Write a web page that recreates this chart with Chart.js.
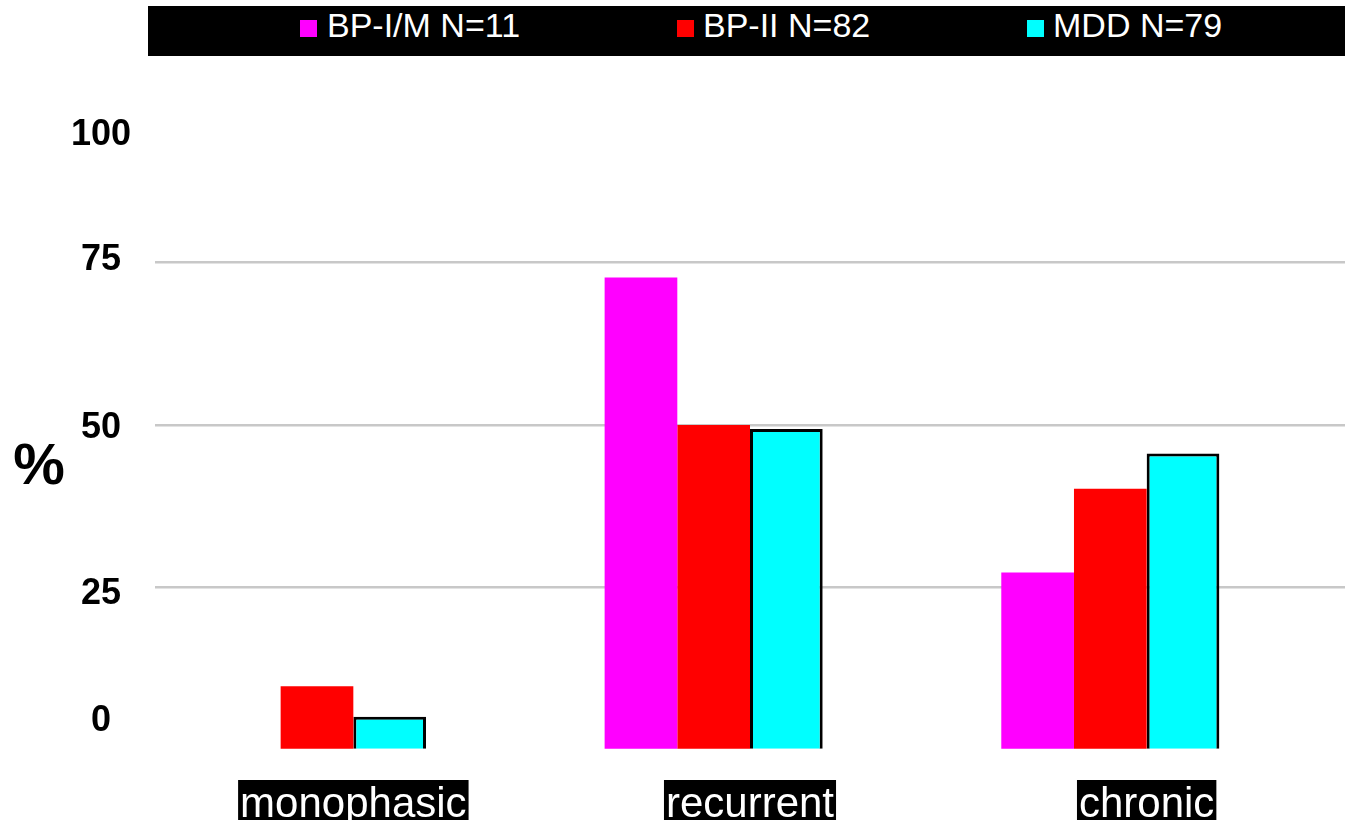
<!DOCTYPE html>
<html>
<head>
<meta charset="utf-8">
<script src="https://cdn.jsdelivr.net/npm/chart.js@4"></script>
<style>
  body { margin: 0; background: #fff; }
  #wrap { position: relative; width: 1345px; height: 820px; overflow: hidden; }
  #legend { position: absolute; left: 148px; top: 6px; width: 1197px; height: 50px; background: #000; }
  #legend .sq { position: absolute; top: 14px; width: 17px; height: 17px; }
  #legend .tx { position: absolute; top: 2px; color: #fff; font: 34px Arial, "Liberation Sans", sans-serif; line-height: 34px; white-space: nowrap; }
</style>
</head>
<body>
<div id="wrap">
  <canvas id="grafico" width="1345" height="820"></canvas>
  <div id="legend"></div>
</div>
<script>
// categorias y series (%)
const categorias = ["monophasic", "recurrent", "chronic"];
const series = ["BP-I/M N=11", "BP-II N=82", "MDD N=79"];
const bp1 = [0, 72.7, 27.3];
const bp2 = [9.8, 50, 40.2];
const mdd = [5.1, 49.4, 45.6];
const hueco = [0, 0, 0]; // serie vacia que ocupa el 4o lugar del grupo
const yTicks = [0, 25, 50, 75, 100];

const colores = ["#ff00ff", "#ff0000", "#00ffff"];

// leyenda en html sobre la franja negra
const leg = document.getElementById("legend");
const sqLeft = [152, 529, 879];
const txLeft = [179, 555, 905];
series.forEach((s, i) => {
  const sq = document.createElement("div");
  sq.className = "sq";
  sq.style.left = sqLeft[i] + "px";
  sq.style.background = colores[i];
  leg.appendChild(sq);
  const tx = document.createElement("div");
  tx.className = "tx";
  tx.style.left = txLeft[i] + "px";
  tx.textContent = s;
  leg.appendChild(tx);
});

// etiquetas del eje y y el simbolo %
const ejeY = {
  id: "ejeY",
  afterDraw(chart) {
    const ctx = chart.ctx;
    const y = chart.scales.y;
    const ajuste = { 0: -29, 25: 7, 50: 3, 75: -2, 100: 35 };
    ctx.save();
    ctx.fillStyle = "#000";
    ctx.font = "bold 36px Arial, 'Liberation Sans', sans-serif";
    ctx.textAlign = "center";
    ctx.textBaseline = "middle";
    yTicks.forEach(v => {
      ctx.fillText(String(v), 101, y.getPixelForValue(v) + ajuste[v]);
    });
    ctx.font = "bold 58px Arial, 'Liberation Sans', sans-serif";
    ctx.fillText("%", 39, 468);
    ctx.restore();
  }
};

new Chart(document.getElementById("grafico"), {
  type: "bar",
  data: {
    labels: categorias,
    datasets: [{
      label: series[0],
      data: bp1,
      backgroundColor: colores[0],
      borderWidth: 0
    }, {
      label: series[1],
      data: bp2,
      backgroundColor: colores[1],
      borderWidth: 0
    }, {
      label: series[2],
      data: mdd,
      backgroundColor: colores[2],
      borderColor: "#000",
      borderWidth: 3
    }, {
      label: "",
      data: hueco,
      backgroundColor: "rgba(0,0,0,0)",
      borderWidth: 0
    }]
  },
  options: {
    responsive: false,
    animation: false,
    layout: { padding: { top: 100, left: 0, right: 0, bottom: 0 } },
    plugins: {
      legend: { display: false },
      tooltip: { enabled: false }
    },
    datasets: {
      bar: { categoryPercentage: 0.733, barPercentage: 1 }
    },
    scales: {
      x: {
        grid: { display: false, drawTicks: false },
        border: { display: false },
        ticks: {
          color: "#fff",
          font: { family: "Arial, 'Liberation Sans', sans-serif", size: 42 },
          padding: 30,
          maxRotation: 0,
          autoSkip: false,
          showLabelBackdrop: true,
          backdropColor: "#000",
          backdropPadding: { top: 0, bottom: 10, left: 2, right: 2 }
        },
        afterFit(s) { s.height = 70; }
      },
      y: {
        min: 0,
        max: 100,
        grid: {
          drawTicks: false,
          lineWidth: 2.5,
          color: c => (c.tick && [25, 50, 75].includes(c.tick.value)) ? "#c8c8c8" : "rgba(0,0,0,0)"
        },
        border: { display: false },
        ticks: { display: false, stepSize: 25 },
        afterFit(s) { s.width = 155; }
      }
    }
  },
  plugins: [ejeY]
});
</script>
</body>
</html>
